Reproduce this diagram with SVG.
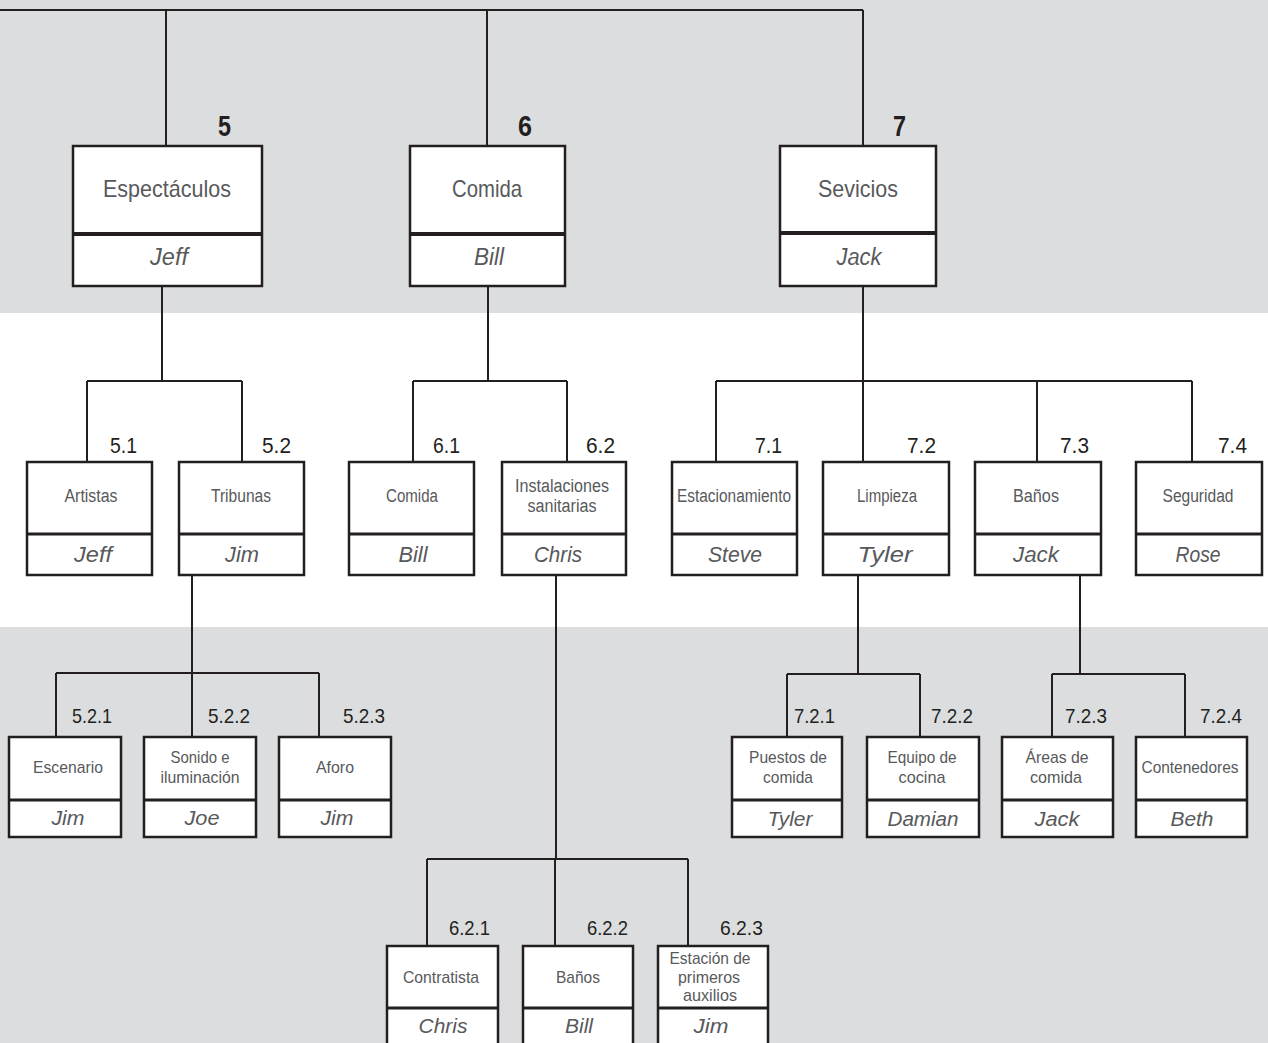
<svg xmlns="http://www.w3.org/2000/svg" width="1268" height="1043" viewBox="0 0 1268 1043">
<style>
.box{fill:#fff;stroke:#231f20;stroke-width:2.5}
.div1{stroke:#231f20;stroke-width:4}
.div2{stroke:#231f20;stroke-width:3}
.ln{fill:none;stroke:#231f20;stroke-width:2}
text{font-family:"Liberation Sans",Arial,sans-serif}
.t{fill:#58595b;text-anchor:middle}
.n{fill:#58595b;text-anchor:middle;font-style:italic}
.num{fill:#231f20}
.big{font-size:29px;font-weight:bold}
.t1{font-size:24px}.n1{font-size:23px}
.t2{font-size:18px}.n2{font-size:22px}
.t3{font-size:17px}.n3{font-size:20px}
.k2{font-size:22px}.k3{font-size:21px}
</style>
<rect x="0" y="0" width="1268" height="313" fill="#dcdddf"/>
<rect x="0" y="313" width="1268" height="314" fill="#ffffff"/>
<rect x="0" y="627" width="1268" height="416" fill="#dcdddf"/>
<g id="connectors" class="ln">
<path d="M0,10 H863 M166,10 V146 M487,10 V146 M863,10 V146"/>
<path d="M162,286 V381 M87,381 H242 M87,381 V462 M242,381 V462"/>
<path d="M488,286 V381 M413,381 H567 M413,381 V462 M567,381 V462"/>
<path d="M863,286 V381 M716,381 H1192 M716,381 V462 M863,381 V462 M1037,381 V462 M1192,381 V462"/>
<path d="M192,575 V673 M56,673 H319 M56,673 V737 M192,673 V737 M319,673 V737"/>
<path d="M556,575 V859 M427,859 H688 M427,859 V946 M555,859 V946 M688,859 V946"/>
<path d="M858,575 V674 M787,674 H920 M787,674 V737 M920,674 V737"/>
<path d="M1080,575 V674 M1052,674 H1185 M1052,674 V737 M1185,674 V737"/>
</g>
<g id="n5">
<rect class="box" x="73" y="146" width="189" height="140"/><line class="div1" x1="73" y1="234" x2="262" y2="234"/>
<text class="num big" x="218" y="136" textLength="13" lengthAdjust="spacingAndGlyphs">5</text>
<text class="t t1" x="167" y="197" textLength="128" lengthAdjust="spacingAndGlyphs">Espectáculos</text>
<text class="n n1" x="169" y="265" textLength="38" lengthAdjust="spacingAndGlyphs">Jeff</text>
</g>
<g id="n6">
<rect class="box" x="410" y="146" width="155" height="140"/><line class="div1" x1="410" y1="234" x2="565" y2="234"/>
<text class="num big" x="518" y="136" textLength="14" lengthAdjust="spacingAndGlyphs">6</text>
<text class="t t1" x="487" y="197" textLength="70" lengthAdjust="spacingAndGlyphs">Comida</text>
<text class="n n1" x="489" y="265" textLength="30" lengthAdjust="spacingAndGlyphs">Bill</text>
</g>
<g id="n7">
<rect class="box" x="780" y="146" width="156" height="140"/><line class="div1" x1="780" y1="233" x2="936" y2="233"/>
<text class="num big" x="893" y="136" textLength="13" lengthAdjust="spacingAndGlyphs">7</text>
<text class="t t1" x="858" y="197" textLength="80" lengthAdjust="spacingAndGlyphs">Sevicios</text>
<text class="n n1" x="859" y="265" textLength="45" lengthAdjust="spacingAndGlyphs">Jack</text>
</g>
<g id="n5-1">
<rect class="box" x="27" y="462" width="125" height="113"/><line class="div2" x1="27" y1="534" x2="152" y2="534"/>
<text class="num k2" x="110" y="453" textLength="27" lengthAdjust="spacingAndGlyphs">5.1</text>
<text class="t t2" x="91" y="502" textLength="53" lengthAdjust="spacingAndGlyphs">Artistas</text>
<text class="n n2" x="93" y="562" textLength="38" lengthAdjust="spacingAndGlyphs">Jeff</text>
</g>
<g id="n5-2">
<rect class="box" x="179" y="462" width="125" height="113"/><line class="div2" x1="179" y1="534" x2="304" y2="534"/>
<text class="num k2" x="262" y="453" textLength="29" lengthAdjust="spacingAndGlyphs">5.2</text>
<text class="t t2" x="241" y="502" textLength="60" lengthAdjust="spacingAndGlyphs">Tribunas</text>
<text class="n n2" x="242" y="562" textLength="34" lengthAdjust="spacingAndGlyphs">Jim</text>
</g>
<g id="n6-1">
<rect class="box" x="349" y="462" width="125" height="113"/><line class="div2" x1="349" y1="534" x2="474" y2="534"/>
<text class="num k2" x="433" y="453" textLength="27" lengthAdjust="spacingAndGlyphs">6.1</text>
<text class="t t2" x="412" y="502" textLength="52" lengthAdjust="spacingAndGlyphs">Comida</text>
<text class="n n2" x="413" y="562" textLength="29" lengthAdjust="spacingAndGlyphs">Bill</text>
</g>
<g id="n6-2">
<rect class="box" x="502" y="462" width="124" height="113"/><line class="div2" x1="502" y1="534" x2="626" y2="534"/>
<text class="num k2" x="586" y="453" textLength="29" lengthAdjust="spacingAndGlyphs">6.2</text>
<text class="t t2" x="562" y="492" textLength="94" lengthAdjust="spacingAndGlyphs">Instalaciones</text>
<text class="t t2" x="562" y="512" textLength="69" lengthAdjust="spacingAndGlyphs">sanitarias</text>
<text class="n n2" x="558" y="562" textLength="48" lengthAdjust="spacingAndGlyphs">Chris</text>
</g>
<g id="n7-1">
<rect class="box" x="672" y="462" width="125" height="113"/><line class="div2" x1="672" y1="534" x2="797" y2="534"/>
<text class="num k2" x="755" y="453" textLength="27" lengthAdjust="spacingAndGlyphs">7.1</text>
<text class="t t2" x="734" y="502" textLength="114" lengthAdjust="spacingAndGlyphs">Estacionamiento</text>
<text class="n n2" x="735" y="562" textLength="54" lengthAdjust="spacingAndGlyphs">Steve</text>
</g>
<g id="n7-2">
<rect class="box" x="823" y="462" width="126" height="113"/><line class="div2" x1="823" y1="534" x2="949" y2="534"/>
<text class="num k2" x="907" y="453" textLength="29" lengthAdjust="spacingAndGlyphs">7.2</text>
<text class="t t2" x="887" y="502" textLength="60" lengthAdjust="spacingAndGlyphs">Limpieza</text>
<text class="n n2" x="885" y="562" textLength="55" lengthAdjust="spacingAndGlyphs">Tyler</text>
</g>
<g id="n7-3">
<rect class="box" x="975" y="462" width="126" height="113"/><line class="div2" x1="975" y1="534" x2="1101" y2="534"/>
<text class="num k2" x="1060" y="453" textLength="29" lengthAdjust="spacingAndGlyphs">7.3</text>
<text class="t t2" x="1036" y="502" textLength="46" lengthAdjust="spacingAndGlyphs">Baños</text>
<text class="n n2" x="1036" y="562" textLength="46" lengthAdjust="spacingAndGlyphs">Jack</text>
</g>
<g id="n7-4">
<rect class="box" x="1136" y="462" width="126" height="113"/><line class="div2" x1="1136" y1="534" x2="1262" y2="534"/>
<text class="num k2" x="1218" y="453" textLength="29" lengthAdjust="spacingAndGlyphs">7.4</text>
<text class="t t2" x="1198" y="502" textLength="71" lengthAdjust="spacingAndGlyphs">Seguridad</text>
<text class="n n2" x="1198" y="562" textLength="45" lengthAdjust="spacingAndGlyphs">Rose</text>
</g>
<g id="n5-2-1">
<rect class="box" x="9" y="737" width="112" height="100"/><line class="div2" x1="9" y1="800" x2="121" y2="800"/>
<text class="num k3" x="72" y="723" textLength="40" lengthAdjust="spacingAndGlyphs">5.2.1</text>
<text class="t t3" x="68" y="773" textLength="70" lengthAdjust="spacingAndGlyphs">Escenario</text>
<text class="n n3" x="68" y="825" textLength="33" lengthAdjust="spacingAndGlyphs">Jim</text>
</g>
<g id="n5-2-2">
<rect class="box" x="144" y="737" width="112" height="100"/><line class="div2" x1="144" y1="800" x2="256" y2="800"/>
<text class="num k3" x="208" y="723" textLength="42" lengthAdjust="spacingAndGlyphs">5.2.2</text>
<text class="t t3" x="200" y="763" textLength="59" lengthAdjust="spacingAndGlyphs">Sonido e</text>
<text class="t t3" x="200" y="783" textLength="79" lengthAdjust="spacingAndGlyphs">iluminación</text>
<text class="n n3" x="202" y="825" textLength="35" lengthAdjust="spacingAndGlyphs">Joe</text>
</g>
<g id="n5-2-3">
<rect class="box" x="279" y="737" width="112" height="100"/><line class="div2" x1="279" y1="800" x2="391" y2="800"/>
<text class="num k3" x="343" y="723" textLength="42" lengthAdjust="spacingAndGlyphs">5.2.3</text>
<text class="t t3" x="335" y="773" textLength="38" lengthAdjust="spacingAndGlyphs">Aforo</text>
<text class="n n3" x="337" y="825" textLength="33" lengthAdjust="spacingAndGlyphs">Jim</text>
</g>
<g id="n7-2-1">
<rect class="box" x="732" y="737" width="110" height="100"/><line class="div2" x1="732" y1="800" x2="842" y2="800"/>
<text class="num k3" x="794" y="723" textLength="41" lengthAdjust="spacingAndGlyphs">7.2.1</text>
<text class="t t3" x="788" y="763" textLength="78" lengthAdjust="spacingAndGlyphs">Puestos de</text>
<text class="t t3" x="788" y="783" textLength="50" lengthAdjust="spacingAndGlyphs">comida</text>
<text class="n n3" x="790" y="826" textLength="45" lengthAdjust="spacingAndGlyphs">Tyler</text>
</g>
<g id="n7-2-2">
<rect class="box" x="867" y="737" width="112" height="100"/><line class="div2" x1="867" y1="800" x2="979" y2="800"/>
<text class="num k3" x="931" y="723" textLength="42" lengthAdjust="spacingAndGlyphs">7.2.2</text>
<text class="t t3" x="922" y="763" textLength="69" lengthAdjust="spacingAndGlyphs">Equipo de</text>
<text class="t t3" x="922" y="783" textLength="47" lengthAdjust="spacingAndGlyphs">cocina</text>
<text class="n n3" x="923" y="826" textLength="71" lengthAdjust="spacingAndGlyphs">Damian</text>
</g>
<g id="n7-2-3">
<rect class="box" x="1002" y="737" width="111" height="100"/><line class="div2" x1="1002" y1="800" x2="1113" y2="800"/>
<text class="num k3" x="1065" y="723" textLength="42" lengthAdjust="spacingAndGlyphs">7.2.3</text>
<text class="t t3" x="1057" y="763" textLength="63" lengthAdjust="spacingAndGlyphs">Áreas de</text>
<text class="t t3" x="1056" y="783" textLength="52" lengthAdjust="spacingAndGlyphs">comida</text>
<text class="n n3" x="1057" y="826" textLength="45" lengthAdjust="spacingAndGlyphs">Jack</text>
</g>
<g id="n7-2-4">
<rect class="box" x="1136" y="737" width="111" height="100"/><line class="div2" x1="1136" y1="800" x2="1247" y2="800"/>
<text class="num k3" x="1200" y="723" textLength="42" lengthAdjust="spacingAndGlyphs">7.2.4</text>
<text class="t t3" x="1190" y="773" textLength="97" lengthAdjust="spacingAndGlyphs">Contenedores</text>
<text class="n n3" x="1192" y="826" textLength="43" lengthAdjust="spacingAndGlyphs">Beth</text>
</g>
<g id="n6-2-1">
<rect class="box" x="387" y="946" width="111" height="110"/><line class="div2" x1="387" y1="1008" x2="498" y2="1008"/>
<text class="num k3" x="449" y="935" textLength="41" lengthAdjust="spacingAndGlyphs">6.2.1</text>
<text class="t t3" x="441" y="983" textLength="76" lengthAdjust="spacingAndGlyphs">Contratista</text>
<text class="n n3" x="443" y="1033" textLength="49" lengthAdjust="spacingAndGlyphs">Chris</text>
</g>
<g id="n6-2-2">
<rect class="box" x="523" y="946" width="110" height="110"/><line class="div2" x1="523" y1="1008" x2="633" y2="1008"/>
<text class="num k3" x="587" y="935" textLength="41" lengthAdjust="spacingAndGlyphs">6.2.2</text>
<text class="t t3" x="578" y="983" textLength="44" lengthAdjust="spacingAndGlyphs">Baños</text>
<text class="n n3" x="579" y="1033" textLength="28" lengthAdjust="spacingAndGlyphs">Bill</text>
</g>
<g id="n6-2-3">
<rect class="box" x="658" y="946" width="110" height="110"/><line class="div2" x1="658" y1="1008" x2="768" y2="1008"/>
<text class="num k3" x="720" y="935" textLength="43" lengthAdjust="spacingAndGlyphs">6.2.3</text>
<text class="t t3" x="710" y="964" textLength="81" lengthAdjust="spacingAndGlyphs">Estación de</text>
<text class="t t3" x="709" y="983" textLength="62" lengthAdjust="spacingAndGlyphs">primeros</text>
<text class="t t3" x="710" y="1001" textLength="54" lengthAdjust="spacingAndGlyphs">auxilios</text>
<text class="n n3" x="711" y="1033" textLength="35" lengthAdjust="spacingAndGlyphs">Jim</text>
</g>
</svg>
